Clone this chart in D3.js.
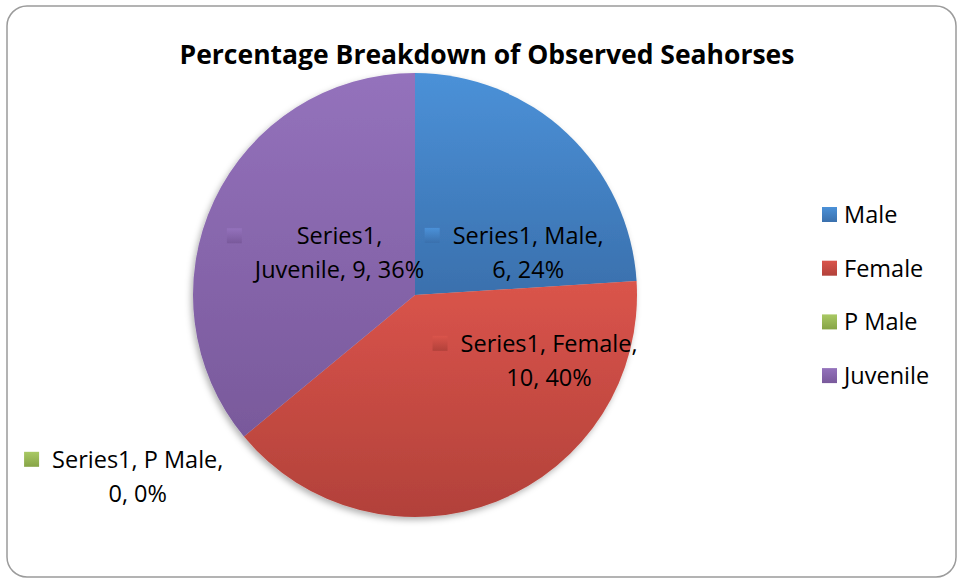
<!DOCTYPE html>
<html>
<head>
<meta charset="utf-8">
<script src="https://cdn.jsdelivr.net/npm/d3@7"></script>
<style>
  body { margin: 0; background: #fff; }
  text { font-family: "Open Sans", Lato, sans-serif; fill: #000; }
</style>
</head>
<body>
<svg id="pie_svg" width="960" height="581"></svg>
<script>
// chart data
var seriesName = "Series1"
var categories = ["Male", "Female", "P Male", "Juvenile"]
var counts = [6, 10, 0, 9]
var percents = ["24%", "40%", "0%", "36%"]
var colorsTop = ["#4b91d8", "#da544b", "#a9c964", "#9472bc"]
var colorsBottom = ["#3a70ad", "#b2413a", "#86a446", "#79599b"]

var width = 960, height = 581
var cx = 415, cy = 295, radius = 222
var fontSize = "23.5px"

var svg = d3.select("#pie_svg")

// chart frame
svg.append("rect")
  .attr("x", 7).attr("y", 6)
  .attr("width", 949).attr("height", 571)
  .attr("rx", 20).attr("ry", 20)
  .attr("fill", "#fff")
  .attr("stroke", "#9b9b9b")
  .attr("stroke-width", 1.5)

svg.append("text")
  .attr("x", 487).attr("y", 64)
  .attr("text-anchor", "middle")
  .style("font-size", "26.5px")
  .style("font-weight", "bold")
  .text("Percentage Breakdown of Observed Seahorses")

var defs = svg.append("defs")
var shadow = defs.append("filter").attr("id", "pieShadow")
  .attr("x", "-10%").attr("y", "-10%").attr("width", "120%").attr("height", "120%")
shadow.append("feDropShadow")
  .attr("dx", -2).attr("dy", 3).attr("stdDeviation", 3)
  .attr("flood-color", "#000").attr("flood-opacity", 0.3)

categories.forEach(function (c, i) {
  var g = defs.append("linearGradient").attr("id", "grad" + i)
    .attr("x1", 0).attr("y1", 0).attr("x2", 0).attr("y2", 1)
  g.append("stop").attr("offset", "0%").attr("stop-color", colorsTop[i])
  g.append("stop").attr("offset", "100%").attr("stop-color", colorsBottom[i])
})

var rows = categories.map(function (c, i) {
  return { name: c, value: counts[i], pct: percents[i], idx: i }
})

var pie = d3.pie().sort(null).value(function (d) { return d.value })
var arc = d3.arc().innerRadius(0).outerRadius(radius)
var arcs = pie(rows)

var pieG = svg.append("g")
  .attr("transform", "translate(" + cx + "," + cy + ")")

pieG.append("g")
  .attr("filter", "url(#pieShadow)")
  .selectAll("path")
  .data(arcs.filter(function (d) { return d.value > 0 }))
  .enter()
  .append("path")
  .attr("d", arc)
  .attr("fill", function (d) { return "url(#grad" + d.data.idx + ")" })

// data labels: placed from the arc centroid, nudged like Excel's best fit
var labelArc = d3.arc().innerRadius(radius * 0.6).outerRadius(radius * 0.6)
var outerArc = d3.arc().innerRadius(radius * 1.2).outerRadius(radius * 1.2)
var labelNudge = [[22, 55], [85, -58], [-72, 12], [45, 15]]
var lineH = 34

arcs.forEach(function (d) {
  var i = d.data.idx
  var c = d.value === 0 ? outerArc.centroid(d) : labelArc.centroid(d)
  var x = c[0] + labelNudge[i][0], y = c[1] + labelNudge[i][1]
  var l1, l2
  if (i === 3) { l1 = seriesName + ","; l2 = d.data.name + ", " + d.data.value + ", " + d.data.pct }
  else { l1 = seriesName + ", " + d.data.name + ","; l2 = d.data.value + ", " + d.data.pct }
  var g = pieG.append("g").attr("transform", "translate(" + x + "," + y + ")")
  var t1 = g.append("text").attr("text-anchor", "middle").attr("y", -lineH / 2 + 8)
    .style("font-size", fontSize).text(l1)
  var t2 = g.append("text").attr("text-anchor", "middle").attr("y", lineH / 2 + 8)
    .style("font-size", fontSize).text(l2)
  var w = Math.max(t1.node().getComputedTextLength(), t2.node().getComputedTextLength())
  g.append("rect")
    .attr("x", -w / 2 - 28).attr("y", -lineH / 2 - 8)
    .attr("width", 15).attr("height", 15)
    .attr("fill", "url(#grad" + i + ")")
})

// legend
var legend = svg.append("g").attr("transform", "translate(822,215)")
var item = legend.selectAll("g").data(categories).enter().append("g")
  .attr("transform", function (d, i) { return "translate(0," + i * 53.7 + ")" })
item.append("rect")
  .attr("x", 0).attr("y", -8).attr("width", 15).attr("height", 15)
  .attr("fill", function (d, i) { return "url(#grad" + i + ")" })
item.append("text")
  .attr("x", 22).attr("y", 8)
  .style("font-size", fontSize)
  .text(function (d) { return d })
</script>
</body>
</html>
